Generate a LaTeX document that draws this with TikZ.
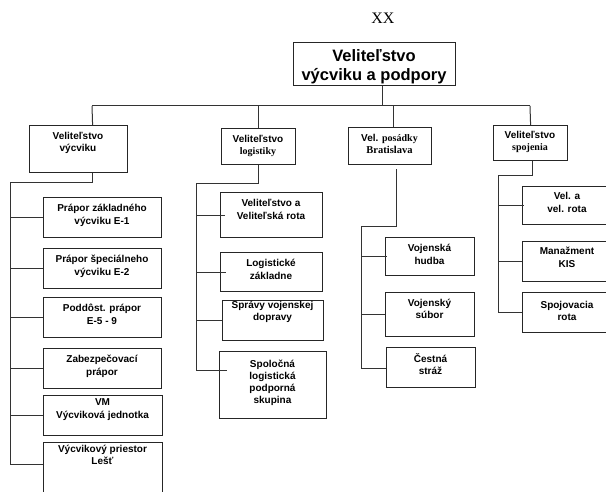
\documentclass[tikz,border=0pt]{standalone}
\usepackage{fontspec}
\setmainfont{Liberation Serif}
\newfontfamily\arialf{Liberation Sans}
\newcommand\serb{\rmfamily\bfseries}
\begin{document}
\begin{tikzpicture}[x=1pt,y=-1pt,
  box/.style={draw=black!85, line width=1.2pt, fill=white, inner sep=0pt, anchor=north west},
  conn/.style={draw=black!80, line width=1pt},
  lab/.style={align=center, anchor=base, inner sep=0pt, font=\arialf\bfseries\fontsize{10}{12}\selectfont},
  sublab/.style={lab, font=\arialf\bfseries\fontsize{10}{12.5}\selectfont},
  toplab/.style={lab, font=\arialf\bfseries\fontsize{16.5}{19}\selectfont}]
\useasboundingbox (0,0) rectangle (606,492);
\clip (0,0) rectangle (606,492);
\fill[white] (0,0) rectangle (606,492);

% title
\node[anchor=base, inner sep=0pt, font=\rmfamily\fontsize{16}{19}\selectfont] (xx) at (383,24) {XX};

% top box
\node[box, minimum width=162pt, minimum height=43pt] (T) at (293,42) {};
\node[toplab] (Tt) at (374,81) {Veliteľstvo\\výcviku a podpory};

% level 2
\node[box, minimum width=98pt, minimum height=47pt] (A) at (29,125) {};
\node[lab] (At) at (78,152) {Veliteľstvo\\výcviku};
\node[box, minimum width=74pt, minimum height=36pt] (B) at (221,128) {};
\node[lab] (Bt) at (258,155) {Veliteľstvo\\{\serb logistiky}};
\node[box, minimum width=83pt, minimum height=37pt] (C) at (348,127) {};
\node[lab] (Ct) at (389.5,154) {Vel. {\serb posádky}\\{\serb\fontsize{10.5}{12}\selectfont Bratislava}};
\node[box, minimum width=74pt, minimum height=35pt] (D) at (493,125) {};
\node[lab] (Dt) at (530,151) {Veliteľstvo\\{\serb spojenia}};

% bus
\coordinate (busL) at (92,106);
\coordinate (busR) at (530,106);
\draw[conn] ([xshift=8pt]T.south) -- ([xshift=8pt]T.south |- busL);
\draw[conn] (busL) -- (busR);
\draw[conn] ([xshift=14pt]A.north) -- (busL);
\draw[conn] (B.north) -- (B.north |- busL);
\draw[conn] ([xshift=3.5pt]C.north) -- ([xshift=3.5pt]C.north |- busL);
\draw[conn] (D.north) -- (busR);

% column A
\node[box, minimum width=118pt, minimum height=40pt] (L1) at (43,197) {};
\node[sublab] (L1t) at (102,224.5) {Prápor základného\\výcviku E-1};
\node[box, minimum width=118pt, minimum height=40pt] (L2) at (43,248) {};
\node[sublab] (L2t) at (102,275.5) {Prápor špeciálneho\\výcviku E-2};
\node[box, minimum width=118pt, minimum height=40pt] (L3) at (43,297) {};
\node[sublab] (L3t) at (102,324) {Poddôst. prápor\\E-5 - 9};
\node[box, minimum width=118pt, minimum height=40pt] (L4) at (43,348) {};
\node[sublab] (L4t) at (102,375) {Zabezpečovací\\prápor};
\node[box, minimum width=119pt, minimum height=40pt] (L5) at (43,395) {};
\node[sublab] (L5t) at (102.5,418) {VM\\Výcviková jednotka};
\node[box, minimum width=119pt, minimum height=70pt] (L6) at (43,442) {};
\node[sublab] (L6t) at (102.5,464.5) {Výcvikový priestor\\Lešť};
\coordinate (aT) at (10,183);
\draw[conn] ([xshift=14pt]A.south) |- (aT) |- ([yshift=-22pt]L6.north west);
\foreach \n in {L1,L2,L3,L4,L5} \draw[conn] (aT |- \n.west) -- (\n.west);

% column B
\node[box, minimum width=102pt, minimum height=45pt] (G1) at (220,192) {};
\node[sublab] (G1t) at (271,219.5) {Veliteľstvo a\\Veliteľská rota};
\node[box, minimum width=102pt, minimum height=39pt] (G2) at (220,252) {};
\node[sublab] (G2t) at (271,279.5) {Logistické\\základne};
\node[box, minimum width=101pt, minimum height=40pt] (G3) at (222,300) {};
\node[sublab] (G3t) at (272.5,320.5) {Správy vojenskej\\dopravy};
\node[box, minimum width=107pt, minimum height=67pt] (G4) at (219,351) {};
\node[lab] (G4t) at (272.5,403) {Spoločná\\logistická\\podporná\\skupina};
\coordinate (bT) at (196,184);
\draw[conn] (B.south) |- (bT) |- ([xshift=8pt,yshift=-19pt]G4.north west);
\draw[conn] (bT |- G1.west) -- ([xshift=5pt]G1.west);
\draw[conn] (bT |- G2.west) -- ([xshift=6pt]G2.west);
\draw[conn] (bT |- G3.west) -- (G3.west);

% column C
\node[box, minimum width=89pt, minimum height=38pt] (P1) at (385,237) {};
\node[sublab] (P1t) at (429.5,264.5) {Vojenská\\hudba};
\node[box, minimum width=89pt, minimum height=44pt] (P2) at (385,292) {};
\node[sublab] (P2t) at (429.5,318.5) {Vojenský\\súbor};
\node[box, minimum width=89pt, minimum height=40pt] (P3) at (386,347) {};
\node[sublab] (P3t) at (430.5,374.5) {Čestná\\stráž};
\coordinate (cT) at (361,227);
\draw[conn] ([xshift=6.5pt,yshift=-4pt]C.south) |- (cT) |- ([yshift=-21pt]P3.north west);
\draw[conn] (cT |- P1.west) -- ([xshift=2pt]P1.west);
\draw[conn] (cT |- P2.west) -- (P2.west);

% column D
\node[box, minimum width=90pt, minimum height=38pt] (S1) at (522,186) {};
\node[sublab] (S1t) at (567,212.5) {Vel. a\\vel. rota};
\node[box, minimum width=90pt, minimum height=40pt] (S2) at (522,241) {};
\node[sublab] (S2t) at (567,267.5) {Manažment\\KIS};
\node[box, minimum width=90pt, minimum height=40pt] (S3) at (522,292) {};
\node[sublab] (S3t) at (567,320.5) {Spojovacia\\rota};
\coordinate (dT) at (498,176);
\draw[conn] ([xshift=2pt]D.south) |- (dT) |- (S3.west);
\draw[conn] (dT |- S1.west) -- ([xshift=2pt]S1.west);
\draw[conn] (dT |- S2.west) -- (S2.west);
\end{tikzpicture}
\end{document}
